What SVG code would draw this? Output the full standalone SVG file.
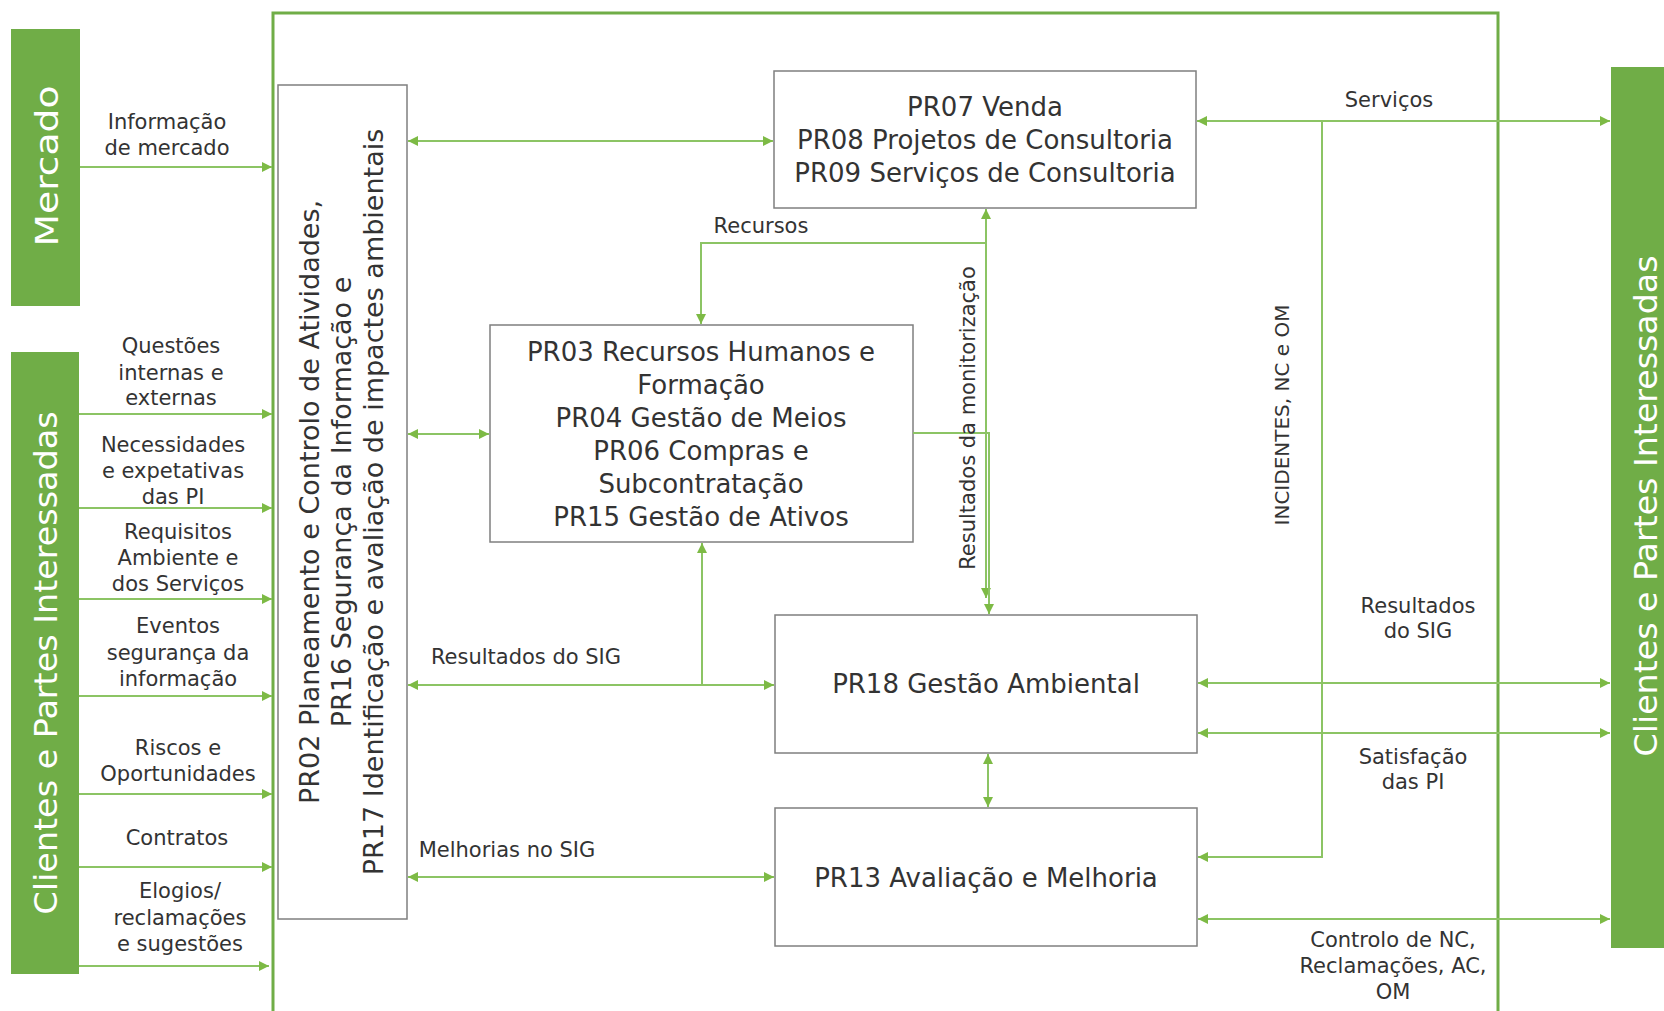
<svg xmlns="http://www.w3.org/2000/svg" width="1664" height="1011" viewBox="0 0 1664 1011">
  <style>
    text { font-family: "DejaVu Sans", "Liberation Sans", sans-serif; fill: #333333; }
    .lbl { font-size: 21px; text-anchor: middle; }
    .node { font-size: 26px; text-anchor: middle; }
    .vnode { font-size: 27px; text-anchor: middle; }
    .big { font-size: 32px; text-anchor: middle; fill: #ffffff; }
    .box { fill: #ffffff; stroke: #7f7f7f; stroke-width: 1.5; }
    .gbox { fill: #70AD47; stroke: none; }
    .frame { fill: none; stroke: #70AD47; stroke-width: 3; }
    .c { fill: none; stroke: #8CC464; stroke-width: 2; }
    .a1 { marker-end: url(#ah); }
    .a2 { marker-start: url(#ah); marker-end: url(#ah); }
  </style>
  <defs>
    <marker id="ah" viewBox="0 0 10 10" refX="10" refY="5" markerWidth="10" markerHeight="10" markerUnits="userSpaceOnUse" orient="auto-start-reverse">
      <path d="M0,0 L10,5 L0,10 z" fill="#7DBA45"/>
    </marker>
  </defs>

  <rect class="frame" x="273" y="13" width="1225" height="1010"/>

  <g id="mercado">
    <rect class="gbox" x="11" y="29" width="69" height="277"/>
    <text class="big" transform="translate(58,166) rotate(-90)" textLength="161" lengthAdjust="spacingAndGlyphs">Mercado</text>
  </g>
  <g id="clientes-left">
    <rect class="gbox" x="11" y="352" width="68" height="622"/>
    <text class="big" transform="translate(57,663) rotate(-90)" textLength="503" lengthAdjust="spacingAndGlyphs">Clientes e Partes Interessadas</text>
  </g>
  <g id="clientes-right">
    <rect class="gbox" x="1611" y="67" width="70" height="881"/>
    <text class="big" transform="translate(1657,506) rotate(-90)" textLength="501" lengthAdjust="spacingAndGlyphs">Clientes e Partes Interessadas</text>
  </g>

  <g id="pr02">
    <rect class="box" x="278" y="85" width="129" height="834"/>
    <text class="vnode" transform="translate(319,502) rotate(-90)">PR02 Planeamento e Controlo de Atividades,</text>
    <text class="vnode" transform="translate(351,502) rotate(-90)">PR16 Segurança da Informação e</text>
    <text class="vnode" transform="translate(383,502) rotate(-90)">PR17 Identificação e avaliação de impactes ambientais</text>
  </g>
  <g id="pr07">
    <rect class="box" x="774" y="71" width="422" height="137"/>
    <text class="node" x="985" y="116">PR07 Venda</text>
    <text class="node" x="985" y="149">PR08 Projetos de Consultoria</text>
    <text class="node" x="985" y="182">PR09 Serviços de Consultoria</text>
  </g>
  <g id="pr03">
    <rect class="box" x="490" y="325" width="423" height="217"/>
    <text class="node" x="701" y="361">PR03 Recursos Humanos e</text>
    <text class="node" x="701" y="394">Formação</text>
    <text class="node" x="701" y="427">PR04 Gestão de Meios</text>
    <text class="node" x="701" y="460">PR06 Compras e</text>
    <text class="node" x="701" y="493">Subcontratação</text>
    <text class="node" x="701" y="526">PR15 Gestão de Ativos</text>
  </g>
  <g id="pr18">
    <rect class="box" x="775" y="615" width="422" height="138"/>
    <text class="node" x="986" y="693">PR18 Gestão Ambiental</text>
  </g>
  <g id="pr13">
    <rect class="box" x="775" y="808" width="422" height="138"/>
    <text class="node" x="986" y="887">PR13 Avaliação e Melhoria</text>
  </g>

  <g id="connectors">
    <line class="c a1" x1="80" y1="167" x2="272" y2="167"/>
    <line class="c a1" x1="79" y1="414" x2="272" y2="414"/>
    <line class="c a1" x1="79" y1="508" x2="272" y2="508"/>
    <line class="c a1" x1="79" y1="599" x2="272" y2="599"/>
    <line class="c a1" x1="79" y1="696" x2="272" y2="696"/>
    <line class="c a1" x1="79" y1="794" x2="272" y2="794"/>
    <line class="c a1" x1="79" y1="867" x2="272" y2="867"/>
    <line class="c a1" x1="79" y1="966" x2="269" y2="966"/>

    <line class="c a2" x1="408" y1="141" x2="773" y2="141"/>
    <line class="c a2" x1="408" y1="434" x2="489" y2="434"/>
    <line class="c a2" x1="408" y1="685" x2="774" y2="685"/>
    <line class="c a1" x1="702" y1="685" x2="702" y2="543"/>
    <line class="c a2" x1="408" y1="877" x2="774" y2="877"/>

    <line class="c a2" x1="986" y1="598" x2="986" y2="209"/>
    <path class="c a1" d="M986,243 H701 V324"/>
    <path class="c a1" d="M913,433 H989 V614"/>
    <line class="c a2" x1="988" y1="754" x2="988" y2="807"/>

    <line class="c a2" x1="1197" y1="121" x2="1610" y2="121"/>
    <path class="c a1" d="M1322,121 V857 H1198"/>
    <line class="c a2" x1="1198" y1="683" x2="1610" y2="683"/>
    <line class="c a2" x1="1198" y1="733" x2="1610" y2="733"/>
    <line class="c a2" x1="1198" y1="919" x2="1610" y2="919"/>
  </g>

  <g id="labels">
    <text class="lbl" x="167" y="129">Informação</text>
    <text class="lbl" x="167" y="155">de mercado</text>
    <text class="lbl" x="171" y="353">Questões</text>
    <text class="lbl" x="171" y="380">internas e</text>
    <text class="lbl" x="171" y="405">externas</text>
    <text class="lbl" x="173" y="452">Necessidades</text>
    <text class="lbl" x="173" y="478">e expetativas</text>
    <text class="lbl" x="173" y="504">das PI</text>
    <text class="lbl" x="178" y="539">Requisitos</text>
    <text class="lbl" x="178" y="565">Ambiente e</text>
    <text class="lbl" x="178" y="591">dos Serviços</text>
    <text class="lbl" x="178" y="633">Eventos</text>
    <text class="lbl" x="178" y="660">segurança da</text>
    <text class="lbl" x="178" y="686">informação</text>
    <text class="lbl" x="178" y="755">Riscos e</text>
    <text class="lbl" x="178" y="781">Oportunidades</text>
    <text class="lbl" x="177" y="845">Contratos</text>
    <text class="lbl" x="180" y="898">Elogios/</text>
    <text class="lbl" x="180" y="925">reclamações</text>
    <text class="lbl" x="180" y="951">e sugestões</text>

    <text class="lbl" x="761" y="233">Recursos</text>
    <text class="lbl" x="526" y="664">Resultados do SIG</text>
    <text class="lbl" x="507" y="857">Melhorias no SIG</text>
    <text class="lbl" transform="translate(975,418) rotate(-90)">Resultados da monitorização</text>
    <text class="lbl" style="font-size:20px" transform="translate(1289,415) rotate(-90)">INCIDENTES, NC e OM</text>

    <text class="lbl" x="1389" y="107">Serviços</text>
    <text class="lbl" x="1418" y="613">Resultados</text>
    <text class="lbl" x="1418" y="638">do SIG</text>
    <text class="lbl" x="1413" y="764">Satisfação</text>
    <text class="lbl" x="1413" y="789">das PI</text>
    <text class="lbl" x="1393" y="947">Controlo de NC,</text>
    <text class="lbl" x="1393" y="973">Reclamações, AC,</text>
    <text class="lbl" x="1393" y="999">OM</text>
  </g>
</svg>
